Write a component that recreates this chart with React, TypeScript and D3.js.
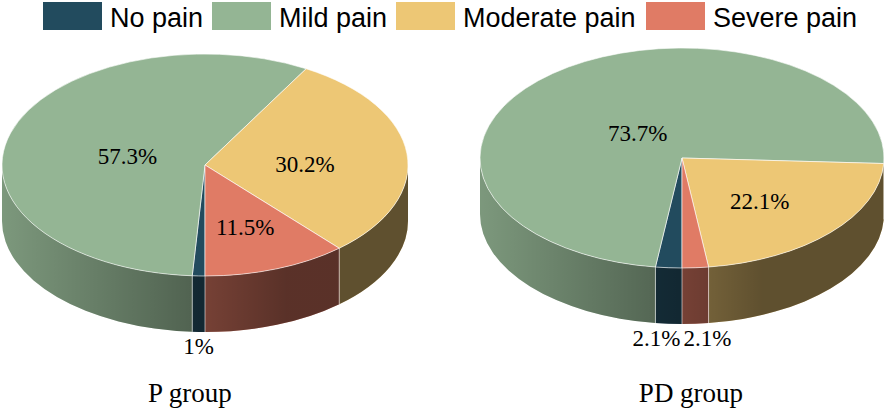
import React from "react"
import * as d3 from "d3"

const categories = ["No pain", "Mild pain", "Moderate pain", "Severe pain"]
const colors = ["#224b5e", "#94b594", "#edc775", "#e07b65"]
const groupNames = ["P group", "PD group"]
const pGroupValues = [1, 57.3, 30.2, 11.5]
const pdGroupValues = [2.1, 73.7, 22.1, 2.1]

const width = 886
const height = 409
const legendX = [43, 212, 396, 646]

const serif = "'Liberation Serif', 'Times New Roman', Times, serif"
const sans = "'Liberation Sans', Arial, Helvetica, sans-serif"

interface PieProps {
  id: string
  values: number[]
  title: string
  cx: number
  cy: number
  rx: number
  ry: number
  depth: number
  titleX: number
}

const Pie3D = ({ id, values, title, cx, cy, rx, ry, depth, titleX }: PieProps) => {
  const pie = d3
    .pie<number>()
    .sort(null)
    .value((d) => d)
    .startAngle(Math.PI)
    .endAngle(3 * Math.PI)
  const arcs = pie(values)
  const total = d3.sum(values)
  const arc = d3.arc<d3.PieArcDatum<number>>().innerRadius(0).outerRadius(rx)

  const pt = (a: number, dy = 0): [number, number] => [cx + rx * Math.sin(a), cy - ry * Math.cos(a) + dy]

  // only the front half of the rim can be seen
  const visible = [
    [Math.PI, 1.5 * Math.PI],
    [2.5 * Math.PI, 3 * Math.PI],
  ]
  const sides: { d: string; color: string }[] = []
  arcs.forEach((a, i) => {
    visible.forEach(([v0, v1]) => {
      const t0 = Math.max(a.startAngle, v0)
      const t1 = Math.min(a.endAngle, v1)
      if (t1 <= t0) return
      const [x0, y0] = pt(t0)
      const [x1, y1] = pt(t1)
      sides.push({
        d: `M${x0},${y0} A${rx},${ry} 0 0 1 ${x1},${y1} L${x1},${y1 + depth} A${rx},${ry} 0 0 0 ${x0},${y0 + depth} Z`,
        color: colors[i],
      })
    })
  })

  const edges = arcs
    .map((a) => a.startAngle)
    .filter((t) => visible.some(([v0, v1]) => t >= v0 && t <= v1))

  // labels: big slices inside (closer to the centre the bigger they are), tiny ones below the rim
  const inner = arcs.filter((a) => a.data >= 5)
  const outer = arcs
    .filter((a) => a.data < 5)
    .map((a) => ({ text: `${a.data}%`, x: pt((a.startAngle + a.endAngle) / 2)[0] }))
    .sort((p, q) => p.x - q.x)
  const minGap = 51
  for (let it = 0; it < 10; it++) {
    for (let i = 1; i < outer.length; i++) {
      const gap = outer[i].x - outer[i - 1].x
      if (gap < minGap) {
        const push = (minGap - gap) / 2
        outer[i - 1].x -= push
        outer[i].x += push
      }
    }
  }

  return (
    <g>
      <defs>
        <linearGradient id={`shade-${id}`} gradientUnits="userSpaceOnUse" x1={cx - rx} x2={cx + rx} y1={0} y2={0}>
          <stop offset="0" stopColor="#000" stopOpacity={0.16} />
          <stop offset="0.7" stopColor="#000" stopOpacity={0.6} />
          <stop offset="1" stopColor="#000" stopOpacity={0.6} />
        </linearGradient>
      </defs>
      {sides.map((s, i) => (
        <g key={i}>
          <path d={s.d} fill={s.color} />
          <path d={s.d} fill={`url(#shade-${id})`} />
        </g>
      ))}
      {edges.map((t, i) => {
        const [x, y] = pt(t)
        return <line key={i} x1={x} y1={y} x2={x} y2={y + depth} stroke="#fff" strokeOpacity={0.7} strokeWidth={0.8} />
      })}
      <g transform={`translate(${cx},${cy}) scale(1,${ry / rx})`}>
        {arcs.map((a, i) => (
          <path
            key={i}
            d={arc(a) || ""}
            fill={colors[i]}
            stroke="#fff"
            strokeOpacity={0.75}
            strokeWidth={0.8}
            vectorEffect="non-scaling-stroke"
          />
        ))}
      </g>
      {inner.map((a, i) => {
        const m = (a.startAngle + a.endAngle) / 2
        const f = 0.6 - 0.35 * (a.data / total)
        const x = cx + rx * f * Math.sin(m)
        const y = cy - ry * f * Math.cos(m) + 4
        return (
          <text key={i} x={x} y={y} dy="0.35em" textAnchor="middle" fontFamily={serif} fontSize={23} fill="#000">
            {`${a.data}%`}
          </text>
        )
      })}
      {outer.map((o, i) => (
        <text key={i} x={o.x} y={cy + ry + depth + 22} textAnchor="middle" fontFamily={serif} fontSize={23} fill="#000">
          {o.text}
        </text>
      ))}
      <text x={titleX} y={402} textAnchor="middle" fontFamily={serif} fontSize={27} fill="#000">
        {title}
      </text>
    </g>
  )
}

export default function App() {
  return (
    <svg
      width={width}
      height={height}
      style={{ position: "absolute", left: 0, top: 0, background: "#fff" }}
    >
      {categories.map((c, i) => (
        <g key={c} transform={`translate(${legendX[i]},2)`}>
          <rect width={59} height={28} fill={colors[i]} />
          <text x={67} y={25} fontFamily={sans} fontSize={27} fill="#000">
            {c}
          </text>
        </g>
      ))}
      <Pie3D id="p" values={pGroupValues} title={groupNames[0]} cx={205} cy={165} rx={203} ry={111} depth={56} titleX={190} />
      <Pie3D id="pd" values={pdGroupValues} title={groupNames[1]} cx={682} cy={158} rx={202} ry={110} depth={56} titleX={691} />
    </svg>
  )
}
